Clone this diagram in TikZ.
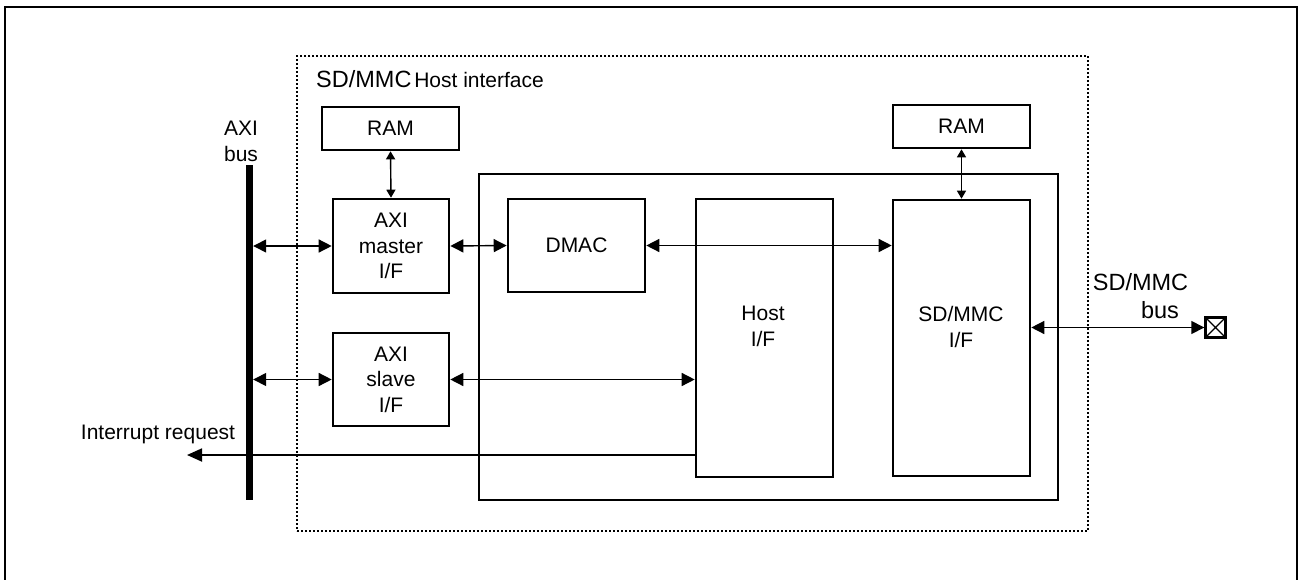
\documentclass[tikz,border=0pt]{standalone}
\usepackage{fontspec}
\setmainfont{Liberation Sans}
\usetikzlibrary{arrows.meta,calc}
\begin{document}
\begin{tikzpicture}[x=1pt,y=-1pt,
  blk/.style={draw,line width=2.6pt,inner sep=0pt,align=center,font=\fontsize{21}{25.5}\selectfont},
  txt/.style={inner sep=0pt,align=center,font=\fontsize{21}{26}\selectfont},
  bigtxt/.style={inner sep=0pt,font=\fontsize{23.5}{27}\selectfont},
  biarrow/.style={line width=1.4pt,{Triangle[length=13pt,width=13pt]}-{Triangle[length=13pt,width=13pt]}},
  smallbi/.style={line width=1.4pt,{Triangle[length=8pt,width=9pt]}-{Triangle[length=8pt,width=9pt]}},
]
\useasboundingbox (0,0) rectangle (1301,579);
% outer frame
\draw[line width=2.6pt] (5,7) rectangle (1297,595);
% dotted host interface box
\node[draw,line width=2.2pt,dash pattern=on 2pt off 2pt,minimum width=791pt,minimum height=475pt,inner sep=0pt] (hostif) at (692.5,293.5) {};
\node[anchor=base west,inner sep=0pt] (title) at (316,87.5) {{\fontsize{23.5}{27}\selectfont SD/MMC} {\fontsize{21}{25}\selectfont Host interface}};
% AXI bus
\node[fill=black,minimum width=7pt,minimum height=335pt,inner sep=0pt] (bus) at (249.5,332.5) {};
\node[txt] (buslbl) at (241,141) {AXI\\bus};
% blocks
\node[blk,minimum width=137pt,minimum height=43pt] (ram1) at (390.5,128.5) {RAM};
\node[blk,minimum width=116pt,minimum height=94pt] (master) at (391,246) {AXI\\master\\I/F};
\node[blk,minimum width=116pt,minimum height=93pt] (slave) at (391,379.5) {AXI\\slave\\I/F};
\node[blk,minimum width=579pt,minimum height=326pt] (inner) at (768.5,337) {};
\node[blk,minimum width=137pt,minimum height=93pt] (dmac) at (576.5,245.5) {DMAC};
\node[blk,minimum width=137pt,minimum height=278pt] (host) at (764.5,338) {};
\node[txt] (hostlbl) at (763,326.5) {Host\\I/F};
\node[blk,minimum width=137pt,minimum height=276pt] (sdmmc) at (961.5,338) {};
\node[txt] (sdmmclbl) at (961,326.5) {SD/MMC\\I/F};
\node[blk,minimum width=137pt,minimum height=43pt] (ram2) at (961.5,126.5) {RAM};
% pin
\node[draw,line width=2.4pt,minimum size=20pt,inner sep=0pt,
  path picture={\draw[line width=1.2pt] (path picture bounding box.north west) -- (path picture bounding box.south east)
     (path picture bounding box.north east) -- (path picture bounding box.south west);}] (pin) at (1215.5,327.5) {};
\node[bigtxt] (sdbus1) at (1140.5,282) {SD/MMC};
\node[bigtxt] (sdbus2) at (1160,310) {bus};
\node[txt] (irqlbl) at (158,434) {Interrupt request};
\coordinate (irq) at (187,455);
% connectors
\draw[biarrow] (bus.east |- master.west) -- (master.west);
\draw[biarrow] (bus.east |- slave.west) -- (slave.west);
\draw[biarrow] (master.east) -- (dmac.west);
\draw[biarrow] (dmac.east) -- (dmac.east -| sdmmc.west);
\draw[biarrow] (slave.east) -- (slave.east -| host.west);
\draw[smallbi] (ram1.south) -- (master.north);
\draw[smallbi] (ram2.south) -- (sdmmc.north);
\draw[biarrow] (sdmmc.east |- pin.west) -- (pin.west);
\draw[line width=1.8pt,-{Triangle[length=15pt,width=13pt]}] (host.west |- irq) -- (irq);
\end{tikzpicture}
\end{document}
